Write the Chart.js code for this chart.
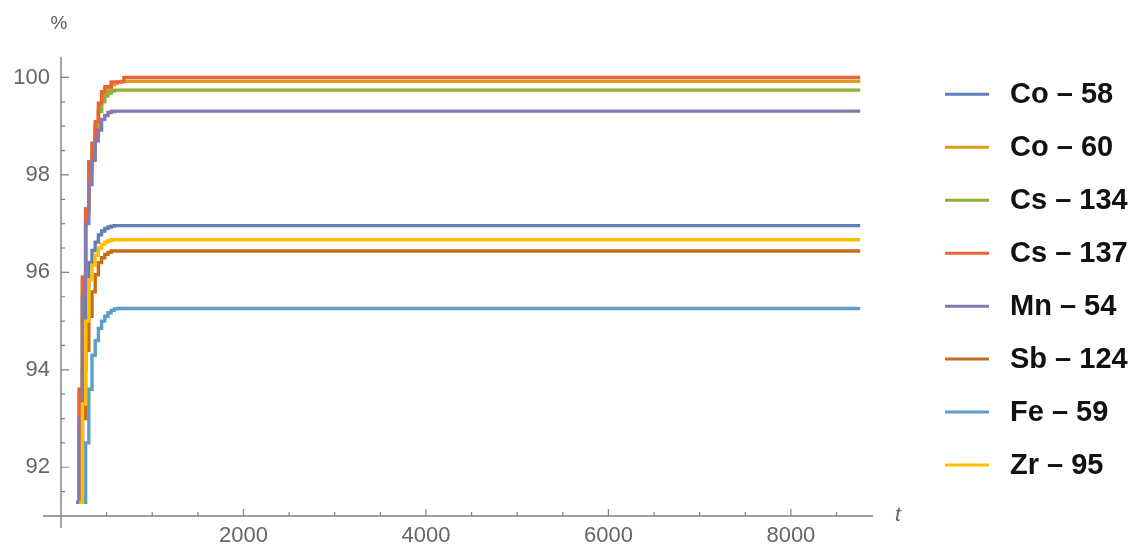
<!DOCTYPE html>
<html><head><meta charset="utf-8">
<script src="https://cdn.jsdelivr.net/npm/chart.js@4/dist/chart.umd.min.js"></script>
<style>html,body{margin:0;padding:0;background:#fff;}canvas{display:block;}</style>
</head><body>
<canvas id="c" width="1137" height="546"></canvas>
<script>
// ---- data ----
const seriesNames = ["Co – 58","Co – 60","Cs – 134","Cs – 137","Mn – 54","Sb – 124","Fe – 59","Zr – 95"];
const seriesColors = ["#5E81B5","#E19C24","#8FB032","#EB6235","#8778B3","#C56E1A","#5D9EC7","#FFBF00"];
const times = [165,200,235,270,305,340,375,410,445,480,515,550,585,620,655,690,8760];
const co58  = [null,91.28,94.0,95.7,96.2,96.45,96.62,96.77,96.85,96.9,96.93,96.95,96.96,96.96,96.96,96.96,96.96];
const co60  = [91.28,93.6,95.9,97.3,98.27,98.62,99.02,99.35,99.6,99.72,99.78,99.85,99.88,99.9,99.92,99.92,99.92];
const cs134 = [91.28,93.5,95.8,97.2,98.1,98.55,98.95,99.3,99.5,99.62,99.68,99.72,99.74,99.74,99.74,99.74,99.74];
const cs137 = [91.28,93.6,95.9,97.3,98.27,98.65,99.09,99.47,99.71,99.81,99.81,99.91,99.91,99.91,99.91,100.0,100.0];
const mn54  = [91.28,93.0,95.5,97.0,97.8,98.3,98.7,98.92,99.14,99.22,99.28,99.3,99.31,99.31,99.31,99.31,99.31];
const sb124 = [null,91.28,93.0,94.4,95.1,95.6,95.95,96.2,96.3,96.37,96.41,96.44,96.44,96.44,96.44,96.44,96.44];
const fe59  = [null,null,91.28,92.5,93.6,94.3,94.6,94.85,95.0,95.1,95.17,95.22,95.25,95.26,95.26,95.26,95.26];
const zr95  = [null,91.28,93.3,95.0,95.85,96.15,96.35,96.5,96.58,96.62,96.65,96.67,96.67,96.67,96.67,96.67,96.67];
const seriesValues = [co58, co60, cs134, cs137, mn54, sb124, fe59, zr95];
const xMajorTicks = [2000,4000,6000,8000];
const xMinorTicks = [500,1000,1500,2500,3000,3500,4500,5000,5500,6500,7000,7500,8500];
const yMajorTicks = [92,94,96,98,100];
const yMinorTicks = [91.5,92.5,93,93.5,94.5,95,95.5,96.5,97,97.5,98.5,99,99.5];
const xLabel = "t";
const yLabel = "%";

// ---- chart ----
const AXIS = "#808080";
const TICKTXT = "#666666";
const FONT = "'Liberation Sans', Arial, sans-serif";

const axesPlugin = {
  id: "mmaAxes",
  beforeDatasetsDraw(chart) {
    const {ctx, chartArea: a, scales: {x, y}} = chart;
    const x0 = x.getPixelForValue(0), y0 = y.getPixelForValue(91);
    ctx.save();
    ctx.strokeStyle = AXIS; ctx.lineWidth = 1.4;
    ctx.beginPath();
    ctx.moveTo(a.left - 18, y0); ctx.lineTo(a.right, y0);
    ctx.moveTo(x0, a.top); ctx.lineTo(x0, a.bottom + 12);
    ctx.stroke();
    ctx.lineWidth = 1.2;
    ctx.beginPath();
    xMajorTicks.forEach(v => { const p = x.getPixelForValue(v); ctx.moveTo(p, y0); ctx.lineTo(p, y0 - 7); });
    xMinorTicks.forEach(v => { const p = x.getPixelForValue(v); ctx.moveTo(p, y0); ctx.lineTo(p, y0 - 4); });
    yMajorTicks.forEach(v => { const p = y.getPixelForValue(v); ctx.moveTo(x0, p); ctx.lineTo(x0 + 8, p); });
    yMinorTicks.forEach(v => { const p = y.getPixelForValue(v); ctx.moveTo(x0, p); ctx.lineTo(x0 + 4, p); });
    ctx.stroke();
    ctx.fillStyle = "#5a5a5a";
    ctx.font = "19px " + FONT;
    ctx.textAlign = "center"; ctx.textBaseline = "middle";
    ctx.fillText(yLabel, x0 - 2, 24);
    ctx.fillStyle = "#666";
    ctx.font = "italic 21px " + FONT;
    ctx.fillText(xLabel, a.right + 25, y0 - 1);
    ctx.restore();
  },
  afterDraw(chart) {
    const {ctx} = chart;
    ctx.save();
    chart.data.datasets.forEach((ds, i) => {
      const cy = 94.3 + 52.96 * i;
      ctx.strokeStyle = ds.borderColor; ctx.lineWidth = 3;
      ctx.beginPath(); ctx.moveTo(945, cy); ctx.lineTo(989, cy); ctx.stroke();
      ctx.fillStyle = "#111";
      ctx.font = "bold 29px " + FONT;
      ctx.textAlign = "left"; ctx.textBaseline = "middle";
      ctx.fillText(ds.label, 1010, cy + 1);
    });
    ctx.restore();
  }
};

new Chart(document.getElementById("c"), {
  type: "line",
  data: {
    datasets: seriesNames.map((n, i) => ({
      label: n,
      data: times.map((t, k) => ({x: t, y: seriesValues[i][k]})),
      borderColor: seriesColors[i],
      backgroundColor: seriesColors[i],
      borderWidth: 3.4,
      pointRadius: 0,
      stepped: "before",
      fill: false,
      order: seriesNames.length - i
    }))
  },
  options: {
    responsive: false,
    animation: false,
    devicePixelRatio: 1,
    layout: {padding: {left: 0, top: 57, right: 264, bottom: 0}},
    plugins: {legend: {display: false}, tooltip: {enabled: false}},
    scales: {
      x: {
        type: "linear", min: 0, max: 8900,
        grid: {display: false, drawTicks: false}, border: {display: false},
        afterBuildTicks: s => { s.ticks = xMajorTicks.map(v => ({value: v})); },
        afterFit: s => { s.height = 30; },
        ticks: {autoSkip: false, maxRotation: 0, padding: 7, color: TICKTXT,
                font: {family: FONT, size: 22}, callback: v => String(v)}
      },
      y: {
        type: "linear", min: 91, max: 100.42,
        grid: {display: false, drawTicks: false}, border: {display: false},
        afterBuildTicks: s => { s.ticks = yMajorTicks.map(v => ({value: v})); },
        afterFit: s => { s.width = 61; },
        ticks: {autoSkip: false, padding: 11, color: TICKTXT,
                font: {family: FONT, size: 22}, callback: v => String(v)}
      }
    }
  },
  plugins: [axesPlugin]
});
</script>
</body></html>
